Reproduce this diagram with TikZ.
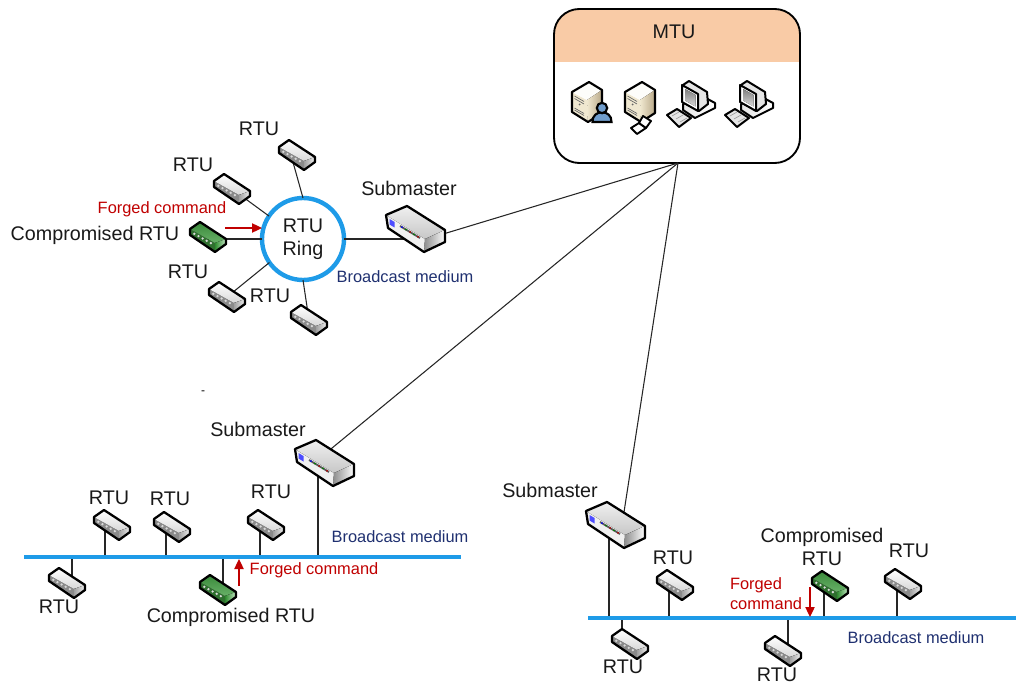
\documentclass[tikz,border=0pt]{standalone}
\usepackage{fontspec}
\usetikzlibrary{arrows.meta}
\setmainfont{Liberation Sans}
\definecolor{ringblue}{HTML}{1E9BE8}
\definecolor{hdr}{HTML}{F9CBA6}
\definecolor{forged}{HTML}{C00000}
\definecolor{navy}{HTML}{1F3070}
\definecolor{beige}{HTML}{F0E8D0}
\definecolor{tan}{HTML}{B8A888}
\definecolor{plaina}{HTML}{FFFFFF}\definecolor{plainb}{HTML}{D8D8D8}\definecolor{plainc}{HTML}{8A8A8A}\definecolor{plaind}{HTML}{F0F0F0}\definecolor{plaine}{HTML}{A0A0A0}
\definecolor{compa}{HTML}{3A8A3A}\definecolor{compb}{HTML}{68B068}\definecolor{compc}{HTML}{2F6F2F}\definecolor{compd}{HTML}{C5E8C5}\definecolor{compe}{HTML}{2F8A2F}
\definecolor{person}{HTML}{6F9CCB}
\tikzset{
  x=.75pt,y=-.75pt,
  lbl/.style={inner sep=0pt,font=\fontsize{14.8}{17.25}\selectfont,align=center,text=black!90},
  redlbl/.style={inner sep=0pt,font=\fontsize{12.3}{15}\selectfont,text=forged,align=left},
  medium/.style={inner sep=0pt,font=\fontsize{12.3}{15}\selectfont,text=navy},
  link/.style={draw=black!85,line width=.8pt},
  bus/.style={draw=ringblue,line width=3pt},
  attack/.style={draw=forged,line width=.9pt,-{Triangle[length=7.5pt,width=7pt]}},
  anchorpt/.style={inner sep=0pt,minimum size=14pt},
  edge/.style={line width=1.7pt,line join=round,draw=black},
  pics/rtu/.style={code={
    \fill[#1c] (-18,-8)--(7,6)--(7,15)--(-18,-2)--cycle;
    \fill[top color=#1a,bottom color=#1b] (-18,-8)--(-8,-15)--(18,2)--(7,6)--cycle;
    \fill[left color=#1e,right color=#1d] (7,6)--(18,2)--(18,7)--(7,15)--cycle;
    \foreach \t in {.1,.28,.46,.64,.82}{
      \fill[white!85!black] ({-16+23*\t},{-4.5+13*\t}) circle (1.3);
    }
    \draw[edge] (-18,-8)--(-8,-15)--(18,2)--(18,7)--(7,15)--(-18,-2)--cycle;
  }},
  pics/submaster/.style={code={
    \fill[black!6] (-29,-14)--(10,10)--(9,23)--(-27,-1)--cycle;
    \fill[top color=black!6,bottom color=black!22] (-29,-14)--(-8,-23)--(30,1)--(10,10)--cycle;
    \fill[left color=black!45,right color=white] (10,10)--(30,1)--(30,13)--(9,23)--cycle;
    \fill[blue!70!white] (-25.5,-10)--(-20.5,-7)--(-20.5,-1.5)--(-25.5,-4.5)--cycle;
    \draw[black!65,line width=1.4pt] (-15,-3)--(5,9);
    \foreach \t/\c in {.1/blue,.3/green!50!black,.5/red!70!black,.7/green!50!black,.9/red!70!black}{
      \fill[\c] ({-15+20*\t},{-3+12*\t}) circle (1);
    }
    \draw[edge] (-29,-14)--(-8,-23)--(30,1)--(30,13)--(9,23)--(-27,-1)--cycle;
  }},
  pics/tower/.style={code={
    \fill[beige] (-15,-11)--(0,-3)--(1,19)--(-15,9)--cycle;
    \fill[white!90!beige] (-15,-11)--(2,-21)--(15,-13)--(0,-3)--cycle;
    \fill[left color=beige,right color=tan] (0,-3)--(15,-13)--(15,10)--(1,19)--cycle;
    \draw[black!60,line width=.5pt] (-12.5,-7)--(-3,-1.5) (-12.5,-4.5)--(-3,1) (-12.5,5)--(-3,10.5) (-12.5,7)--(-3,12.5);
    \fill[black!60] (-7.5,1.5) circle (1);
    \draw[line width=1.6pt,line join=round] (-15,-11)--(2,-21)--(15,-13)--(15,10)--(1,19)--(-15,9)--cycle;
  }},
  pics/computer/.style={code={
    \fill[left color=black!10,right color=white,draw=black,line width=1.5pt,line join=round] (-7,2)--(12,-6)--(25,1)--(25,6)--(5,16)--(-7,8)--cycle;
    \fill[black!10,draw=black,line width=1.5pt,line join=round] (-7,-17)--(-1,-21)--(17,-10)--(18,2)--(9,9)--(-7,0)--cycle;
    \fill[white,draw=black,line width=1.5pt,line join=round] (-8,-17)--(8,-8)--(8,9)--(-8,0)--cycle;
    \fill[top color=black!50,bottom color=black!15] (-5,-13)--(5.5,-7)--(5.5,4.5)--(-5,-1.5)--cycle;
    \fill[white!90!black,draw=black,line width=1.5pt,line join=round] (-23,13)--(-13,7)--(1,16)--(-11,25)--cycle;
    \draw[black!45,line width=.4pt] (-18,14)--(-11,10) (-14,17)--(-7,13) (-10,20)--(-3,16);
  }},
  pics/laptop/.style={code={
    \fill[white,draw=black,line width=1.4pt,line join=round] (-9,1)--(-1,-4)--(6,1)--(-3,7)--cycle;
    \fill[white,draw=black,line width=1.4pt,line join=round] (-1,-4)--(3,-11)--(11,-6)--(6,1)--cycle;
  }},
  pics/personicon/.style={code={
    \fill[person,draw=black,line width=1.6pt] (-9.5,9) .. controls (-10,-4) and (10,-4) .. (9.5,9) -- cycle;
    \fill[person,draw=black,line width=1.6pt] (0,-5) circle (5.2);
  }},
}
\begin{document}
\begin{tikzpicture}
\useasboundingbox (0,0) rectangle (1016,684);
% MTU
\node[anchorpt,minimum size=0pt] (mtu) at (678,163) {};
\begin{scope}
\clip[rounded corners=19pt] (554,9) rectangle (800,163);
\fill[hdr] (554,9) rectangle (800,62);
\end{scope}
\draw[line width=1.4pt,rounded corners=19pt] (554,9) rectangle (800,163);
\node[lbl] (mtulabel) at (674,32) {MTU};
\pic at (587,103) {tower};
\pic at (602,113) {personicon};
\pic at (640,103) {tower};
\pic at (640,127) {laptop};
\pic at (690,102) {computer};
\pic at (748,102) {computer};

% device anchors
\node[anchorpt] (s1) at (415,229) {};
\node[anchorpt] (s2) at (324,463) {};
\node[anchorpt] (s3) at (615,525) {};
\coordinate (p1) at (430,238);
\coordinate (p2) at (326,453);
\coordinate (p3) at (622,525);
\node[draw=ringblue,line width=3.3pt,circle,minimum size=61.5pt,inner sep=0pt,outer sep=0pt,font=\fontsize{14.8}{17.25}\selectfont,align=center,text=black!90] (ring) at (303,239) {RTU\\Ring};
\foreach \n/\p in {a1/{297,155},a2/{232,189},a3/{208,237},a4/{227,297},a5/{309,320},
  b1/{112,525},b2/{172,527},b3/{266,525},b4/{67,583},b5/{218,590},
  c1/{675,585},c2/{830,586},c3/{903,584},c4/{630,644},c5/{783,651}}{
  \node[anchorpt] (\n) at (\p) {};
}
% bus coordinates
\coordinate (busAl) at (24,557);
\coordinate (busAr) at (461,557);
\coordinate (busBl) at (588,618);
\coordinate (busBr) at (1016,618);
\coordinate (f1) at (105,557);
\coordinate (f2) at (166,557);
\coordinate (f3) at (260,557);
\coordinate (f4) at (72,557);
\coordinate (f5) at (223,557);
\coordinate (f6) at (318,557);
\coordinate (g1) at (609,618);
\coordinate (g2) at (669,618);
\coordinate (g3) at (824,618);
\coordinate (g4) at (897,618);
\coordinate (g5) at (622,618);
\coordinate (g6) at (788,618);

% connectors
\draw[link] (mtu.center) -- (p1);
\draw[link] (mtu.center) -- (p2);
\draw[link] (mtu.center) -- (p3);
\draw[link] (ring.east) -- (s1 |- ring.east);
\draw[link] (ring.west) -- (a3 |- ring.west);
\draw[link] ([xshift=-4.5pt]a1.center) -- (ring.north);
\draw[link] (a2.center) -- (ring.146);
\draw[link] (a4.center) -- (ring.215);
\draw[link] (a5.center) -- (ring.south);
\foreach \f/\n in {f1/b1,f2/b2,f3/b3,f4/b4,f5/b5,f6/s2}
  \draw[link] (\f |- \n) -- (\f);
\foreach \f/\n in {g1/s3,g2/c1,g3/c2,g4/c3,g5/c4,g6/c5}
  \draw[link] (\f |- \n) -- (\f);
\draw[bus] (busAl) -- (busAr);
\draw[bus] (busBl) -- (busBr);

% icons
\pic at (s1) {submaster};
\pic at (s2) {submaster};
\pic at (s3) {submaster};
\foreach \n in {a1,a2,a4,a5,b1,b2,b3,b4,c1,c3,c4,c5} \pic at (\n) {rtu=plain};
\foreach \n in {a3,b5,c2} \pic at (\n) {rtu=comp};

% attack arrows
\coordinate (atA) at (225,228);
\coordinate (atB) at (239,586);
\coordinate (atBe) at (239,559);
\coordinate (atC) at (810,587);
\coordinate (atCe) at (810,617);
\draw[attack] (atA) -- (ring.west |- atA);
\draw[attack] (atB) -- (atBe);
\draw[attack] (atC) -- (atCe);

% labels
\node[lbl] (t1) at (259,129) {RTU};
\node[lbl] (t2) at (193,165) {RTU};
\node[lbl] (t3) at (95,235) {Compromised RTU};
\node[lbl] (t4) at (188,272) {RTU};
\node[lbl] (t5) at (270,296) {RTU};
\node[lbl] (t6) at (409,188) {Submaster};
\node[lbl] (t7) at (258,429) {Submaster};
\node[lbl] (t8) at (550,490) {Submaster};
\node[lbl] (t9) at (109,498) {RTU};
\node[lbl] (t10) at (170,499) {RTU};
\node[lbl] (t11) at (271,492) {RTU};
\node[lbl] (t12) at (59,607) {RTU};
\node[lbl] (t13) at (231,617) {Compromised RTU};
\node[lbl] (t14) at (673,558) {RTU};
\node[lbl] (t15) at (822,546.5) {Compromised\\RTU};
\node[lbl] (t16) at (909,551) {RTU};
\node[lbl] (t17) at (623,667) {RTU};
\node[lbl] (t18) at (777,675) {RTU};
\node[redlbl] (t19) at (162,209) {Forged command};
\node[redlbl] (t20) at (314,570) {Forged command};
\node[redlbl] (t21) at (766,594) {Forged\\command};
\node[medium] (t22) at (405,277) {Broadcast medium};
\node[medium] (t23) at (400,537) {Broadcast medium};
\node[medium] (t24) at (916,638) {Broadcast medium};
\node[inner sep=0pt,font=\fontsize{9}{10}\selectfont] (t25) at (203,393) {-};
\end{tikzpicture}
\end{document}
